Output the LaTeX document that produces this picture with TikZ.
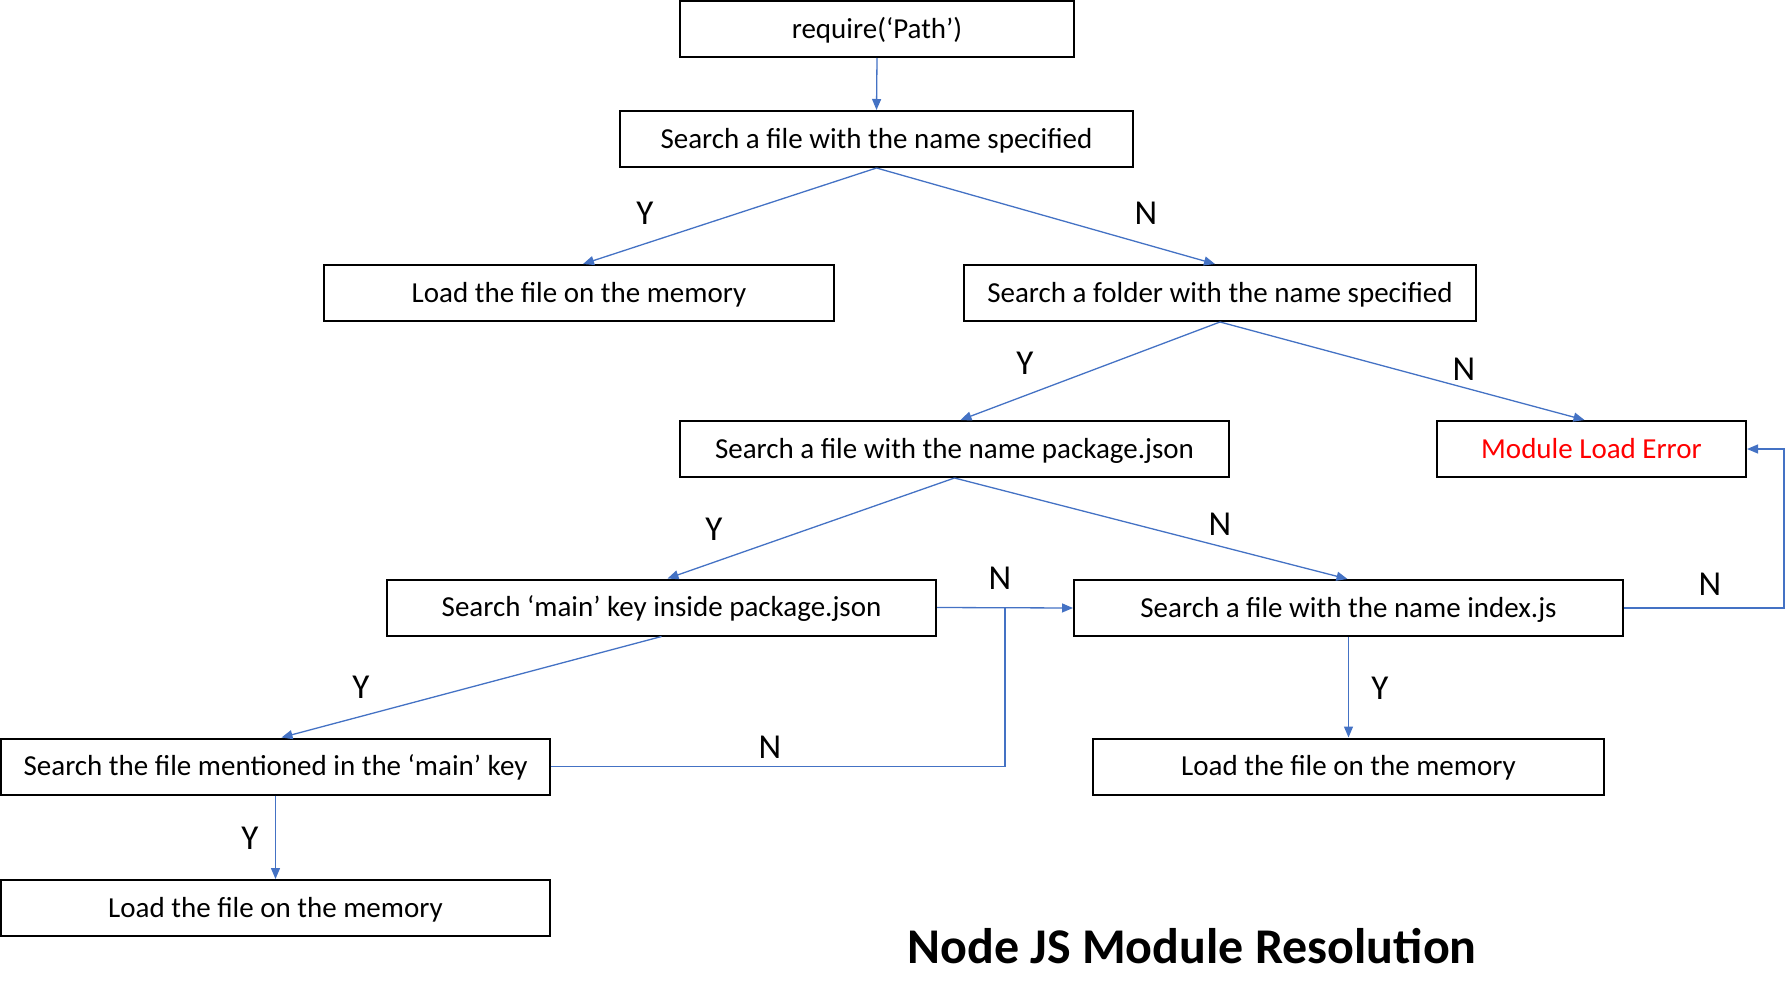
\documentclass[tikz,border=0pt]{standalone}
\usepackage{fontspec}
\setmainfont{Carlito}
\usetikzlibrary{arrows.meta}
\definecolor{officeblue}{HTML}{4472C4}
\begin{document}
\begin{tikzpicture}[x=1pt,y=-1pt,
  box/.style={draw=black,line width=2pt,inner sep=0pt,minimum height=56pt,font=\fontsize{29}{32}\selectfont,text height=18.5pt,text depth=0pt},
  conn/.style={draw=officeblue,line width=1.3pt,-{Triangle[length=11pt,width=9pt]}},
  plain/.style={draw=officeblue,line width=1.3pt},
  yn/.style={inner sep=0pt,font=\fontsize{35}{40}\selectfont}]
\useasboundingbox (0,0) rectangle (1785,1006);
\node[box,minimum width=394pt] (req) at (877,29) {require(‘Path’)};
\node[box,minimum width=513pt] (sf) at (876.5,139) {Search a file with the name specified};
\node[box,minimum width=510pt] (load1) at (579,293) {Load the file on the memory};
\node[box,minimum width=512pt] (folder) at (1220,293) {Search a folder with the name specified};
\node[box,minimum width=549pt] (pkg) at (954.5,449) {Search a file with the name package.json};
\node[box,minimum width=309pt,text=red] (err) at (1591.5,449) {Module Load Error};
\node[box,minimum width=549pt] (main) at (661.5,607.5) {Search ‘main’ key inside package.json};
\node[box,minimum width=549pt] (idx) at (1348.5,608) {Search a file with the name index.js};
\node[box,minimum width=549pt] (ment) at (275.5,766.5) {Search the file mentioned in the ‘main’ key};
\node[box,minimum width=511pt] (load2) at (1348.5,766.5) {Load the file on the memory};
\node[box,minimum width=549pt] (load3) at (275.5,908) {Load the file on the memory};
\node[inner sep=0pt,font=\fontsize{50}{56}\selectfont\bfseries,text height=33pt,text depth=0pt] (title) at (1192,946.5) {Node JS Module Resolution};

\coordinate (junc) at (1005,608);
\coordinate (loopr) at (1784,608);

\draw[conn] (req.south) -- (sf.north);
\draw[conn] (sf.south) -- ([xshift=4pt]load1.north);
\draw[conn] (sf.south) -- ([xshift=-5pt]folder.north);
\draw[conn] (folder.south) -- ([xshift=6pt]pkg.north);
\draw[conn] (folder.south) -- ([xshift=-7pt]err.north);
\draw[conn] (pkg.south) -- ([xshift=6pt]main.north);
\draw[conn] (pkg.south) -- ([xshift=-1pt]idx.north);
\draw[conn] (main.south) -- ([xshift=6pt]ment.north);
\draw[conn] (ment.south) -- (load3.north);
\draw[conn] (idx.south) -- (load2.north);
\draw[conn] (main.east) -- (idx.west);
\draw[plain] (ment.east) -| (junc);
\draw[conn] (idx.east) -- (loopr) |- (err.east);

\node[yn] (y1) at (645,213) {Y};
\node[yn] (n1) at (1146,213) {N};
\node[yn] (y2) at (1025,363) {Y};
\node[yn] (n2) at (1464,369) {N};
\node[yn] (y3) at (714,529) {Y};
\node[yn] (n3) at (1220,524) {N};
\node[yn] (n4) at (1000,578) {N};
\node[yn] (n5) at (1710,584) {N};
\node[yn] (y4) at (361,687) {Y};
\node[yn] (n6) at (770,747) {N};
\node[yn] (y5) at (1380,688) {Y};
\node[yn] (y6) at (250,838) {Y};
\end{tikzpicture}
\end{document}
